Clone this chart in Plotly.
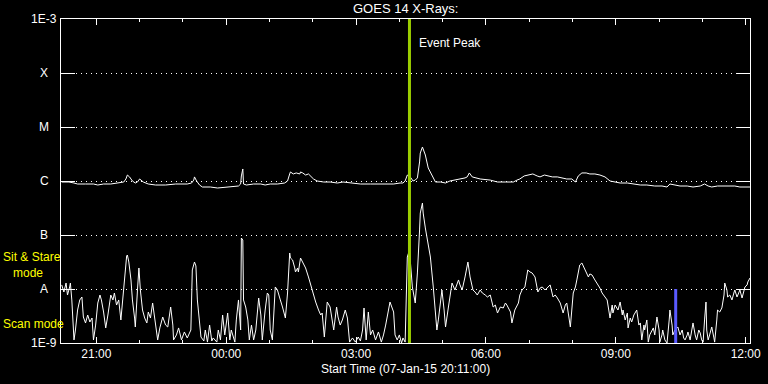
import math
import pandas as pd
import plotly.graph_objects as go

# ---------------- data ----------------
START = "2015-01-07 20:11:00"
X_END = "2015-01-08 12:06:00"

# GOES long channel (1-8 A), minutes after start / flux W m^-2
long_min = [1, 7, 11, 18, 23, 34, 45, 51, 59, 69, 79, 87, 90, 92, 95, 99, 103, 106, 109, 112,
            114, 121, 131, 145, 159, 175, 181, 184, 185, 188, 192, 196, 207, 217, 228, 239, 246,
            249, 250, 252, 253, 257, 267, 277, 283, 290, 300, 310, 314, 317, 318, 322, 326, 331,
            332, 335, 339, 343, 346, 350, 355, 364, 373, 383, 391, 401, 415, 429, 443, 461, 470,
            474, 477, 480, 484, 488, 491, 494, 497, 498, 501, 505, 509, 515, 519, 526, 533, 539,
            546, 553, 560, 563, 566, 570, 576, 581, 595, 605, 616, 627, 632, 636, 642, 647, 654,
            660, 664, 670, 674, 681, 688, 695, 701, 708, 713, 717, 722, 728, 733, 740, 747, 754,
            761, 768, 775, 785, 793, 803, 812, 823, 833, 840, 844, 851, 858, 868, 876, 886, 892,
            897, 902, 910, 923, 934, 941, 951, 955]
long_flux = [9.58e-7, 9.58e-7, 9.58e-7, 9.18e-7, 8.80e-7, 8.80e-7, 8.80e-7, 8.43e-7, 8.80e-7,
             8.80e-7, 9.18e-7, 9.58e-7, 1.09e-6, 1.29e-6, 1.19e-6, 1.0e-6, 9.18e-7, 9.58e-7,
             1.09e-6, 1.0e-6, 9.58e-7, 8.80e-7, 8.43e-7, 8.43e-7, 8.80e-7, 8.80e-7, 9.18e-7,
             1.04e-6, 1.19e-6, 1.0e-6, 8.43e-7, 7.74e-7, 7.74e-7, 7.42e-7, 7.74e-7, 8.08e-7,
             8.08e-7, 8.80e-7, 1.24e-6, 1.67e-6, 8.80e-7, 8.43e-7, 8.80e-7, 8.80e-7, 8.43e-7,
             8.80e-7, 8.80e-7, 9.18e-7, 1.0e-6, 1.35e-6, 1.47e-6, 1.35e-6, 1.41e-6, 1.35e-6,
             1.47e-6, 1.41e-6, 1.29e-6, 1.35e-6, 1.24e-6, 1.09e-6, 1.0e-6, 9.58e-7, 9.58e-7,
             9.18e-7, 9.58e-7, 9.18e-7, 8.80e-7, 8.80e-7, 8.80e-7, 8.80e-7, 9.18e-7, 9.18e-7,
             1.0e-6, 1.29e-6, 1.19e-6, 1.0e-6, 1.04e-6, 1.14e-6, 2.25e-6, 3.30e-6, 4.26e-6,
             3.03e-6, 1.74e-6, 1.19e-6, 9.58e-7, 9.58e-7, 9.18e-7, 1.0e-6, 1.04e-6, 1.09e-6,
             1.14e-6, 1.19e-6, 1.41e-6, 1.19e-6, 1.14e-6, 1.09e-6, 1.04e-6, 9.58e-7, 9.58e-7,
             9.58e-7, 1.04e-6, 1.09e-6, 1.24e-6, 1.29e-6, 1.35e-6, 1.24e-6, 1.19e-6, 1.29e-6,
             1.24e-6, 1.19e-6, 1.19e-6, 1.14e-6, 1.09e-6, 1.09e-6, 9.58e-7, 1.24e-6, 1.41e-6,
             1.41e-6, 1.35e-6, 1.35e-6, 1.29e-6, 1.19e-6, 1.0e-6, 9.58e-7, 9.18e-7, 9.18e-7,
             8.80e-7, 8.43e-7, 8.43e-7, 8.08e-7, 8.08e-7, 7.74e-7, 8.80e-7, 8.43e-7, 8.08e-7,
             8.08e-7, 7.74e-7, 8.08e-7, 8.80e-7, 8.08e-7, 7.74e-7, 8.08e-7, 8.08e-7, 8.08e-7,
             7.74e-7, 7.74e-7, 7.74e-7]

# GOES short channel (0.5-4 A)
short_min = [1, 4, 7, 9, 12, 13, 15, 18, 20, 23, 26, 29, 31, 34, 37, 40, 43, 45, 48, 51, 54, 56,
             59, 62, 65, 69, 72, 74, 77, 80, 83, 85, 88, 91, 92, 94, 97, 99, 102, 103, 106, 108,
             110, 113, 116, 119, 121, 124, 127, 130, 134, 137, 141, 145, 148, 152, 155, 156, 160,
             163, 167, 171, 175, 180, 182, 185, 187, 189, 194, 198, 200, 203, 206, 209, 211, 216,
             218, 221, 224, 227, 231, 234, 236, 241, 243, 246, 249, 250, 252, 253, 256, 259, 261,
             264, 267, 270, 274, 277, 279, 283, 286, 288, 290, 293, 296, 297, 300, 301, 304, 307,
             311, 314, 317, 318, 321, 324, 325, 328, 329, 332, 335, 339, 343, 346, 348, 353, 357,
             360, 362, 365, 369, 373, 378, 382, 384, 387, 390, 394, 397, 400, 404, 408, 412, 415,
             418, 420, 423, 426, 429, 432, 436, 440, 444, 447, 450, 452, 456, 461, 463, 466, 469,
             472, 474, 477, 479, 480, 483, 486, 487, 491, 494, 497, 498, 501, 502, 505, 508, 512,
             516, 519, 521, 523, 526, 528, 531, 533, 537, 539, 542, 546, 551, 553, 556, 560, 564,
             567, 571, 574, 577, 581, 584, 588, 591, 595, 599, 602, 605, 609, 613, 616, 618, 623,
             625, 629, 634, 636, 639, 643, 647, 650, 653, 657, 661, 664, 667, 671, 674, 678, 682,
             685, 688, 692, 696, 699, 701, 704, 706, 710, 713, 715, 719, 722, 726, 731, 733, 736,
             740, 743, 747, 750, 754, 757, 761, 764, 765, 768, 772, 775, 778, 779, 782, 785, 786,
             789, 791, 794, 798, 801, 803, 805, 808, 809, 812, 814, 816, 821, 823, 826, 829, 830,
             833, 834, 837, 840, 843, 844, 847, 848, 851, 855, 858, 861, 863, 865, 868, 869, 872,
             876, 879, 881, 884, 886, 888, 890, 892, 894, 895, 897, 899, 902, 905, 906, 909, 910,
             913, 916, 919, 920, 923, 924, 927, 930, 933, 934, 937, 938, 941, 944, 946, 948, 951,
             952, 955]
short_flux = [1.19e-8, 8.8e-9, 1.29e-8, 7.74e-9, 1.09e-8, 1.29e-8, 6.26e-9, 1.14e-9, 1.74e-9,
              4.08e-9, 6.26e-9, 7.11e-9, 3.03e-9, 2.35e-9, 3.30e-9, 2.45e-9, 2.90e-9, 1.14e-9,
              2.15e-9, 5.50e-9, 7.74e-9, 6.26e-9, 3.75e-9, 1.90e-9, 3.30e-9, 7.74e-9, 6.26e-9,
              8.43e-9, 5.05e-9, 6.26e-9, 2.67e-9, 5.05e-9, 1.82e-8, 4.08e-8, 4.26e-8, 3.16e-8,
              1.47e-8, 6.26e-9, 2.90e-9, 1.98e-9, 9.58e-9, 2.45e-8, 9.58e-9, 4.08e-9, 2.90e-9,
              2.35e-9, 3.75e-9, 2.90e-9, 5.50e-9, 2.67e-9, 1.14e-9, 1.90e-9, 3.03e-9, 2.15e-9,
              1.98e-9, 4.64e-9, 2.15e-9, 1.14e-9, 1.41e-9, 1.90e-9, 1.14e-9, 1.60e-9, 1.24e-9,
              1.74e-9, 2.25e-8, 3.16e-8, 2.67e-8, 6.26e-9, 1.29e-9, 1.09e-9, 1.74e-9, 1.04e-9,
              2.15e-9, 1.09e-9, 1.24e-9, 1.04e-9, 1.74e-9, 1.14e-9, 3.30e-9, 1.41e-9, 3.59e-9,
              1.14e-9, 1.74e-9, 1.04e-9, 2.67e-9, 6.26e-9, 1.74e-9, 8.80e-8, 8.08e-8, 6.26e-9,
              4.64e-9, 2.67e-9, 1.14e-9, 2.15e-9, 1.14e-9, 1.74e-9, 6.81e-9, 3.30e-9, 1.14e-9,
              4.08e-9, 8.43e-9, 7.74e-9, 1.74e-9, 1.14e-9, 6.26e-9, 1.09e-8, 9.58e-9, 8.80e-9,
              6.26e-9, 4.64e-9, 2.90e-9, 8.43e-9, 4.64e-8, 3.75e-8, 3.44e-8, 2.45e-8, 2.07e-8,
              2.45e-8, 2.07e-8, 3.75e-8, 3.03e-8, 2.45e-8, 1.67e-8, 1.19e-8, 1.04e-8, 5.74e-9,
              4.08e-9, 3.30e-9, 3.59e-9, 1.29e-9, 5.74e-9, 4.64e-9, 1.74e-9, 4.64e-9, 3.03e-9,
              2.15e-9, 2.67e-9, 4.08e-9, 2.90e-9, 1.04e-9, 1.24e-9, 1.04e-9, 1.29e-9, 1.09e-9,
              1.74e-9, 4.45e-9, 1.14e-9, 3.75e-9, 1.41e-9, 1.74e-9, 1.14e-9, 1.60e-9, 1.04e-9,
              1.41e-9, 2.15e-9, 3.03e-9, 5.74e-9, 3.75e-9, 1.41e-9, 1.14e-9, 1.41e-9, 1.0e-9,
              1.24e-9, 1.04e-9, 6.26e-9, 3.91e-8, 5.27e-8, 1.47e-8, 1.09e-8, 5.50e-9, 1.98e-8,
              1.24e-7, 2.55e-7, 3.91e-7, 2.55e-7, 1.35e-7, 8.08e-8, 3.91e-8, 1.09e-8, 4.08e-9,
              1.74e-9, 2.67e-9, 6.26e-9, 9.58e-9, 4.08e-9, 1.98e-9, 4.64e-9, 7.74e-9, 1.29e-8,
              9.58e-9, 1.47e-8, 1.19e-8, 9.58e-9, 1.67e-8, 3.16e-8, 1.67e-8, 9.58e-9, 8.80e-9,
              7.74e-9, 9.58e-9, 8.43e-9, 7.74e-9, 7.11e-9, 7.74e-9, 4.64e-9, 5.05e-9, 3.59e-9,
              4.64e-9, 4.45e-9, 5.50e-9, 5.05e-9, 3.75e-9, 2.35e-9, 4.08e-9, 5.50e-9, 7.74e-9,
              9.58e-9, 1.09e-8, 2.25e-8, 2.07e-8, 1.98e-8, 1.67e-8, 8.80e-9, 1.04e-8, 1.09e-8,
              9.58e-9, 1.04e-8, 1.19e-8, 7.11e-9, 7.74e-9, 6.81e-9, 5.50e-9, 3.59e-9, 5.05e-9,
              5.50e-9, 2.90e-9, 1.98e-9, 8.43e-9, 1.09e-8, 1.47e-8, 2.78e-8, 3.03e-8, 2.25e-8,
              1.67e-8, 1.90e-8, 1.82e-8, 1.47e-8, 1.29e-8, 1.04e-8, 8.43e-9, 7.11e-9, 6.26e-9,
              2.90e-9, 5.05e-9, 3.59e-9, 5.05e-9, 4.08e-9, 5.74e-9, 3.30e-9, 4.08e-9, 2.67e-9,
              3.59e-9, 1.90e-9, 2.90e-9, 2.45e-9, 3.30e-9, 4.08e-9, 2.15e-9, 2.35e-9, 1.14e-9,
              2.15e-9, 1.74e-9, 2.67e-9, 1.04e-9, 1.41e-9, 1.90e-9, 1.41e-9, 3.03e-9, 1.74e-9,
              1.04e-9, 1.41e-9, 1.74e-9, 1.14e-9, 1.0e-9, 2.67e-9, 4.08e-9, 2.15e-9, 1.41e-9,
              1.74e-9, 1.98e-9, 1.41e-9, 1.74e-9, 1.24e-9, 1.14e-9, 1.41e-9, 1.60e-9, 1.14e-9,
              2.35e-9, 1.41e-9, 1.14e-9, 1.74e-9, 1.53e-9, 1.14e-9, 1.04e-9, 2.67e-9, 5.74e-9,
              1.74e-9, 1.14e-9, 1.41e-9, 1.98e-9, 1.24e-9, 1.04e-9, 2.67e-9, 4.08e-9, 3.75e-9,
              4.45e-9, 7.74e-9, 1.29e-8, 9.58e-9, 7.11e-9, 7.74e-9, 6.26e-9, 8.80e-9, 9.58e-9,
              7.11e-9, 7.74e-9, 9.58e-9, 6.81e-9, 8.80e-9, 1.09e-8, 1.19e-8, 1.35e-8, 1.60e-8]

level_vals = [1e-9, 1e-8, 1e-7, 1e-6, 1e-5, 1e-4, 1e-3]
level_labels = ["1E-9", "A", "B", "C", "M", "X", "1E-3"]

event_peak_time = "2015-01-08 04:14:00"
mode_switch_time = "2015-01-08 10:23:00"
mode_switch_top = 1e-8

title_text = "GOES 14 X-Rays:"
xlabel_text = "Start Time (07-Jan-15 20:11:00)"

# ---------------- figure ----------------
start = pd.Timestamp(START)
t_long = start + pd.to_timedelta(long_min, unit="min")
t_short = start + pd.to_timedelta(short_min, unit="min")

FONT = "Liberation Sans"
fig = go.Figure()
fig.add_trace(go.Scatter(x=t_long, y=long_flux, mode="lines",
                         line=dict(color="white", width=1), showlegend=False))
fig.add_trace(go.Scatter(x=t_short, y=short_flux, mode="lines",
                         line=dict(color="white", width=1), showlegend=False))
fig.add_trace(go.Scatter(x=[event_peak_time, event_peak_time], y=[level_vals[0], level_vals[-1]],
                         mode="lines", line=dict(color="#9acd00", width=3), showlegend=False))
fig.add_trace(go.Scatter(x=[mode_switch_time, mode_switch_time], y=[level_vals[0], mode_switch_top],
                         mode="lines", line=dict(color="#5a5aff", width=3), showlegend=False))

fig.update_layout(
    template="none",
    width=768, height=384,
    margin=dict(l=61, r=18, t=19, b=41, autoexpand=False),
    paper_bgcolor="black", plot_bgcolor="black",
    font=dict(family=FONT, size=12, color="white"),
    showlegend=False,
)
fig.update_xaxes(
    type="date", range=[START, X_END], automargin=False,
    showline=True, linecolor="white", linewidth=1, mirror="ticks",
    ticks="inside", ticklen=6, tickcolor="white", tickwidth=1,
    tick0="2015-01-07 00:00:00", dtick=3 * 3600 * 1000, tickformat="%H:%M",
    minor=dict(ticks="inside", ticklen=3, tickcolor="white", dtick=3600 * 1000, showgrid=False),
    showgrid=False, zeroline=False,
    tickfont=dict(size=12, color="white"),
)
fig.update_yaxes(
    type="log", range=[math.log10(level_vals[0]), math.log10(level_vals[-1])], automargin=False,
    showline=True, linecolor="white", linewidth=1, mirror="ticks",
    ticks="inside", ticklen=14, tickcolor="white", tickwidth=1,
    tickvals=level_vals, showticklabels=False,
    showgrid=True, gridcolor="white", gridwidth=1, griddash="1px,4px",
    zeroline=False,
)

# y-axis level labels (centred, as in the original)
for v, lab in zip(level_vals, level_labels):
    fig.add_annotation(text=lab, xref="paper", yref="y", x=0, y=math.log10(v),
                       xanchor="center", yanchor="middle", xshift=-17, showarrow=False,
                       font=dict(size=12, color="white"))

fig.add_annotation(text=xlabel_text, xref="paper", yref="paper", x=0.5, y=0,
                   xanchor="center", yanchor="middle", yshift=-26, showarrow=False,
                   font=dict(size=12, color="white"))
fig.add_annotation(text=title_text, xref="paper", yref="paper", x=0.5, y=1,
                   yanchor="middle", yshift=11, showarrow=False,
                   font=dict(size=13, color="white"))
fig.add_annotation(text="Event Peak", xref="x", yref="paper", x=event_peak_time, y=(343 - 43) / 324,
                   xanchor="left", yanchor="middle", xshift=8, showarrow=False,
                   font=dict(size=12, color="white"))
fig.add_annotation(text="Sit & Stare<br>&nbsp;&nbsp;&nbsp;mode", xref="paper", yref="paper",
                   x=0, y=(343 - 265) / 324, align="left",
                   xanchor="left", yanchor="middle", xshift=-60, showarrow=False,
                   font=dict(size=12, color="#ffff00"))
fig.add_annotation(text="Scan mode", xref="paper", yref="paper", x=0, y=(343 - 324) / 324,
                   xanchor="left", yanchor="middle", xshift=-60, showarrow=False,
                   font=dict(size=12, color="#ffff00"))

fig.write_html("out.html")
